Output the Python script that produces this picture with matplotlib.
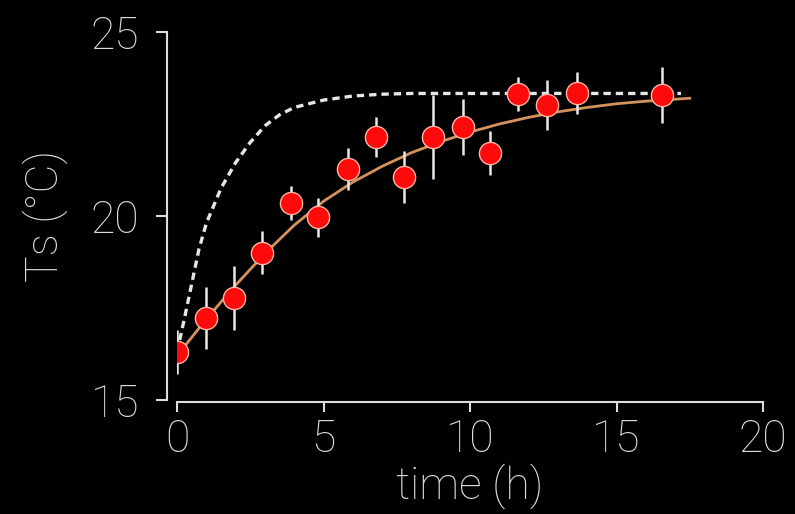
import matplotlib
matplotlib.use("Agg")
import matplotlib.pyplot as plt

# Measured data (time in h, surface temperature in °C)
time_h = [0.0, 0.99, 1.95, 2.9, 3.89, 4.81, 5.84, 6.79, 7.75, 8.74, 9.76, 10.68, 11.64, 12.63, 13.65, 16.55]
ts_c = [16.30, 17.23, 17.77, 19.0, 20.35, 19.97, 21.28, 22.15, 21.06, 22.15, 22.42, 21.71, 23.32, 23.02, 23.34, 23.29]
ts_err = [0.6, 0.85, 0.88, 0.58, 0.47, 0.53, 0.57, 0.55, 0.7, 1.15, 0.75, 0.6, 0.47, 0.68, 0.58, 0.75]

# Fitted curve
fit_t = [0, 1, 2, 3, 4, 5, 6, 7, 8, 9, 10, 11, 12, 13, 14, 15, 16, 17.5]
fit_y = [16.2, 17.2, 18.12, 18.98, 19.75, 20.4, 20.92, 21.35, 21.72, 22.02, 22.28, 22.5, 22.68,
         22.83, 22.95, 23.05, 23.12, 23.2]

# Dashed model curve
model_t = [0, 0.25, 0.5, 0.75, 1.0, 1.5, 2.0, 2.5, 3.0, 3.5, 4.0, 5.0, 6.0, 7.0, 8.0, 17.2]
model_y = [16.3, 17.2, 18.15, 19.1, 19.8, 20.75, 21.45, 22.0, 22.45, 22.75, 22.95, 23.15, 23.26,
           23.31, 23.33, 23.33]

xticks = [0, 5, 10, 15, 20]
yticks = [15, 20, 25]

txt = "#dcdcdc"
plt.rcParams['font.family'] = ['Roboto', 'Liberation Sans', 'DejaVu Sans']
plt.rcParams['font.weight'] = 'light'

W, H = 795, 514
fig = plt.figure(figsize=(W / 100, H / 100), dpi=100, facecolor="black")
ax = fig.add_axes([177 / W, 1 - 400 / H, (763 - 177) / W, (400 - 32) / H])
ax.set_facecolor("black")

ax.plot(model_t, model_y, color="#e6e6e6", lw=2.4, dashes=(2.2, 1.5), zorder=2)
ax.plot(fit_t, fit_y, color="#d4935c", lw=2.0, zorder=3)
ax.errorbar(time_h, ts_c, yerr=ts_err, fmt="none", ecolor="#e8e8e8", elinewidth=1.8,
            capsize=0, zorder=4)
ax.plot(time_h, ts_c, "o", ms=16, color="#ff0a0a", mec="#ffb3a3", mew=1.0, zorder=5)

ax.set_xlim(0, 20)
ax.set_ylim(15, 25)
ax.set_xticks(xticks)
ax.set_yticks(yticks)

for s in ("top", "right"):
    ax.spines[s].set_visible(False)
for s in ("left", "bottom"):
    ax.spines[s].set_color(txt)
    ax.spines[s].set_linewidth(1.5)
ax.spines["left"].set_position(("outward", 7.2))
ax.spines["bottom"].set_position(("outward", 1.5))

ax.tick_params(axis="both", colors=txt, labelsize=32, width=1.5)
ax.tick_params(axis="x", length=7.5, pad=4)
ax.tick_params(axis="y", length=8, pad=12)
for lab in ax.get_xticklabels() + ax.get_yticklabels():
    lab.set_fontweight("light")

ax.set_xlabel("time (h)", fontsize=32, color=txt, labelpad=2, fontweight="light")
ax.set_ylabel("Ts (°C)", fontsize=32, color=txt, labelpad=16, fontweight="light")

fig.savefig("out.png", dpi=100, facecolor="black")
